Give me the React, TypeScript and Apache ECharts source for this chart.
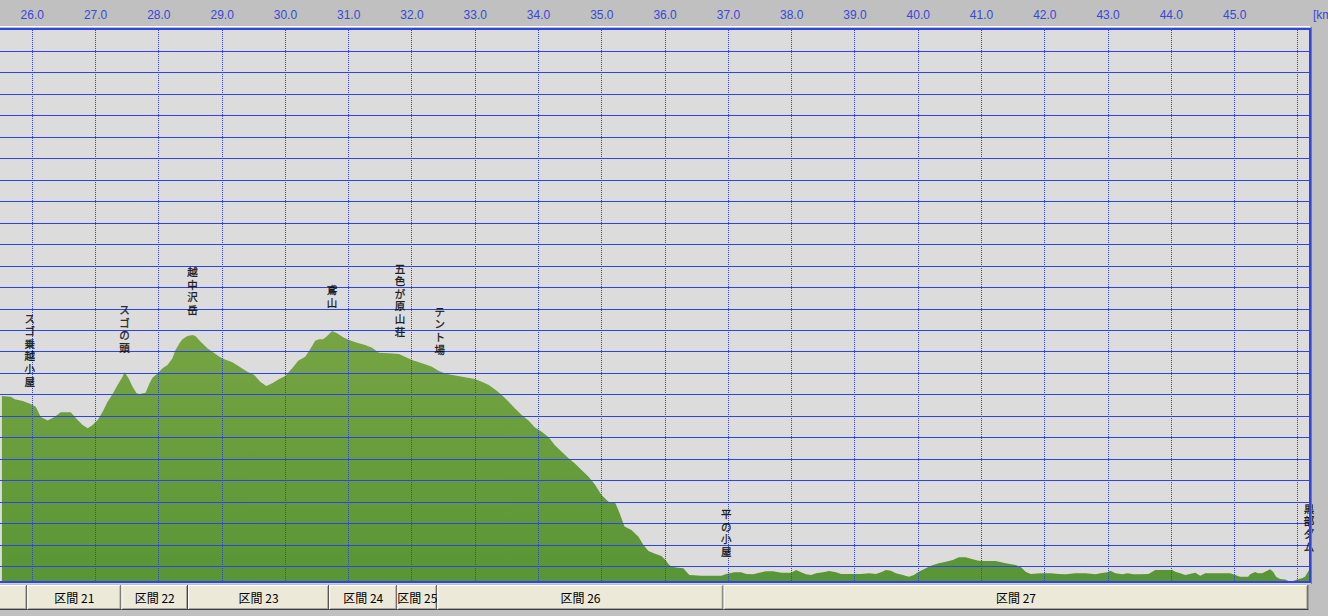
import React, { useEffect, useRef } from 'react';
import * as echarts from 'echarts';

// ---- data ----
const KM = [
  25.52, 25.661, 25.724, 25.85, 25.976, 26.055, 26.134, 26.244, 26.355, 26.449, 26.607, 26.717, 26.796, 26.875,
  26.954, 27.033, 27.112, 27.19, 27.269, 27.348, 27.427, 27.458, 27.522, 27.585, 27.648, 27.695, 27.79, 27.853,
  27.9, 27.979, 28.058, 28.137, 28.215, 28.263, 28.326, 28.373, 28.452, 28.531, 28.578, 28.657, 28.767, 28.846,
  28.957, 29.035, 29.161, 29.288, 29.398, 29.508, 29.603, 29.698, 29.792, 29.903, 29.997, 30.108, 30.202, 30.313,
  30.391, 30.47, 30.533, 30.596, 30.66, 30.738, 30.817, 30.912, 31.006, 31.132, 31.259, 31.369, 31.479, 31.637,
  31.795, 31.889, 32.0, 32.11, 32.205, 32.315, 32.425, 32.552, 32.709, 32.835, 32.993, 33.104, 33.214, 33.308,
  33.419, 33.529, 33.624, 33.734, 33.845, 33.939, 34.05, 34.16, 34.255, 34.365, 34.475, 34.57, 34.68, 34.791,
  34.885, 34.996, 35.106, 35.216, 35.28, 35.358, 35.469, 35.579, 35.658, 35.737, 35.832, 35.942, 36.005, 36.052,
  36.099, 36.21, 36.289, 36.336, 36.383, 36.572, 36.888, 36.967, 37.093, 37.203, 37.282, 37.393, 37.487, 37.597,
  37.708, 37.834, 37.992, 38.071, 38.149, 38.228, 38.307, 38.386, 38.496, 38.591, 38.701, 38.78, 39.095, 39.221,
  39.332, 39.411, 39.49, 39.568, 39.647, 39.758, 39.852, 39.931, 40.01, 40.12, 40.199, 40.325, 40.436, 40.546,
  40.641, 40.751, 40.861, 40.957, 41.066, 41.224, 41.382, 41.539, 41.618, 41.697, 41.776, 41.934, 42.092, 42.218,
  42.328, 42.486, 42.643, 42.801, 42.88, 42.99, 43.037, 43.116, 43.227, 43.306, 43.4, 43.511, 43.637, 43.7,
  43.747, 44.015, 44.062, 44.141, 44.22, 44.378, 44.456, 44.535, 44.93, 45.008, 45.087, 45.213, 45.245, 45.324,
  45.371, 45.434, 45.482, 45.56, 45.608, 45.655, 45.718, 45.797, 45.876, 45.923, 45.986, 46.065, 46.112, 46.175,
];
const ELEV = [
  2295, 2291, 2280, 2271, 2257, 2245, 2197, 2180, 2198, 2219, 2219, 2183, 2159, 2144,
  2159, 2183, 2221, 2268, 2304, 2346, 2384, 2405, 2377, 2338, 2307, 2304, 2310, 2354,
  2380, 2400, 2424, 2439, 2470, 2509, 2540, 2559, 2574, 2579, 2574, 2548, 2517, 2501,
  2478, 2466, 2452, 2428, 2408, 2392, 2361, 2341, 2354, 2374, 2388, 2424, 2459, 2478,
  2512, 2552, 2559, 2559, 2574, 2597, 2587, 2568, 2555, 2543, 2532, 2520, 2496, 2494,
  2490, 2478, 2462, 2452, 2442, 2431, 2411, 2397, 2389, 2382, 2374, 2361, 2346, 2326,
  2299, 2268, 2237, 2206, 2179, 2149, 2128, 2102, 2066, 2035, 2004, 1981, 1950, 1918,
  1884, 1833, 1802, 1795, 1749, 1686, 1670, 1639, 1600, 1572, 1561, 1549, 1530, 1512,
  1499, 1494, 1492, 1476, 1460, 1457, 1457, 1465, 1473, 1473, 1465, 1464, 1471, 1478,
  1478, 1471, 1471, 1484, 1473, 1464, 1460, 1468, 1473, 1479, 1473, 1465, 1465, 1468,
  1465, 1473, 1484, 1480, 1468, 1460, 1452, 1460, 1476, 1492, 1504, 1515, 1522, 1530,
  1543, 1543, 1534, 1527, 1526, 1526, 1515, 1507, 1499, 1476, 1465, 1468, 1468, 1465,
  1464, 1468, 1468, 1464, 1468, 1473, 1480, 1468, 1464, 1468, 1464, 1464, 1465, 1476,
  1484, 1484, 1476, 1468, 1460, 1471, 1457, 1468, 1468, 1460, 1452, 1452, 1464, 1474,
  1468, 1468, 1476, 1487, 1476, 1452, 1442, 1440, 1429, 1432, 1440, 1445, 1452, 1484,
];

const KM_TICK_LABELS = [26, 27, 28, 29, 30, 31, 32, 33, 34, 35, 36, 37, 38, 39, 40, 41, 42, 43, 44, 45];
const KM_GRID_LINES = [26, 27, 28, 29, 30, 31, 32, 33, 34, 35, 36, 37, 38, 39, 40, 41, 42, 43, 44, 45, 46];
const ELEV_GRID_LINES = [
  1500, 1600, 1700, 1800, 1900, 2000, 2100, 2200, 2300, 2400, 2500, 2600, 2700,
  2800, 2900, 3000, 3100, 3200, 3300, 3400, 3500, 3600, 3700, 3800, 3900,
];
const KM_MIN = 25;
const KM_MAX = 46.175;
const KM_STEP = 1;
const ELEV_MIN = 1400;
const ELEV_MAX = 4000;
const ELEV_STEP = 100;

const WAYPOINT_NAMES = ['スゴ乗越小屋', 'スゴの頭', '越中沢岳', '鳶山', '五色が原山荘', 'テント場', '平の小屋', '黒部ダム'];
const WAYPOINT_KM = [25.96, 27.458, 28.531, 30.738, 31.81, 32.44, 36.967, 46.175];
const WAYPOINT_ELEV = [2253, 2411, 2588, 2621, 2486, 2402, 1460, 1484];

const SECTION_NAMES = ['区間 20', '区間 21', '区間 22', '区間 23', '区間 24', '区間 25', '区間 26', '区間 27'];
const SECTION_BOUNDS = [24.0, 25.965, 27.45, 28.5, 30.725, 31.8, 32.43, 36.945, 46.165];

const UNIT_LABEL = '[km]';

// ---- layout / styles ----
const OX = 34; // the chart div starts 34px left of the page, so that km 25 lies off-screen
const BLUE = '#3044e4';
const JP_FONT = '"Noto Sans CJK JP", "Noto Sans", sans-serif';

export default function App() {
  const ref = useRef<HTMLDivElement>(null);

  useEffect(() => {
    if (!ref.current) return;
    const chart = echarts.init(ref.current, null, { renderer: 'svg' });

    const profile = KM.map((k, i) => [k, ELEV[i]]);
    const waypoints = WAYPOINT_KM.map((k, i) => ({
      value: [k, WAYPOINT_ELEV[i]],
      name: WAYPOINT_NAMES[i],
    }));
    const sections = SECTION_NAMES.map((n, i) => ({ value: [SECTION_BOUNDS[i], SECTION_BOUNDS[i + 1]], name: n }));

    const option: any = {
      animation: false,
      backgroundColor: '#c0c0c0',
      grid: [
        {
          left: 0.08,
          right: 19,
          top: 30.04,
          bottom: 28.04,
          show: true,
          backgroundColor: '#dcdcdc',
          borderWidth: 0,
        },
        {
          left: 0.08,
          right: 19,
          top: 585,
          height: 25,
          show: false,
        },
      ],
      xAxis: [
        {
          type: 'value',
          gridIndex: 0,
          position: 'top',
          min: KM_MIN,
          max: KM_MAX,
          interval: KM_STEP,
          z: 5,
          axisLine: { show: false },
          axisTick: { show: false },
          axisLabel: {
            show: true,
            margin: 9,
            color: '#3848d8',
            fontSize: 12,
            fontFamily: '"Liberation Sans", Arial, sans-serif',
            formatter: (v: number) => (KM_TICK_LABELS.includes(v) ? v.toFixed(1) : ''),
          },
          splitLine: { show: false },
        },
        {
          type: 'value',
          gridIndex: 1,
          min: KM_MIN,
          max: KM_MAX,
          show: false,
        },
      ],
      yAxis: [
        {
          type: 'value',
          gridIndex: 0,
          min: ELEV_MIN,
          max: ELEV_MAX,
          interval: ELEV_STEP,
          z: 5,
          axisLine: { show: false },
          axisTick: { show: false },
          axisLabel: { show: false },
          splitLine: { show: false },
        },
        { type: 'value', gridIndex: 1, min: 0, max: 1, show: false },
      ],
      series: [
        {
          type: 'line',
          xAxisIndex: 0,
          yAxisIndex: 0,
          data: profile,
          showSymbol: false,
          symbol: 'none',
          z: 2,
          lineStyle: { width: 0 },
          areaStyle: {
            origin: 'start',
            opacity: 1,
            color: new echarts.graphic.LinearGradient(0, 0, 0, 1, [
              { offset: 0, color: '#77a443' },
              { offset: 1, color: '#589535' },
            ]),
          },
        },
        // horizontal grid lines (elevation), pixel-snapped
        {
          type: 'custom',
          xAxisIndex: 0,
          yAxisIndex: 0,
          data: ELEV_GRID_LINES.map((v) => [v]),
          encode: { y: 0 },
          z: 5,
          silent: true,
          clip: false,
          renderItem: (params: any, api: any) => {
            const cs = params.coordSys;
            const y = Math.floor(api.coord([KM_MIN, api.value(0)])[1]) + 0.5;
            return {
              type: 'line',
              shape: { x1: cs.x, y1: y, x2: cs.x + cs.width, y2: y },
              style: { stroke: BLUE, lineWidth: 1 },
            };
          },
        },
        // vertical dotted grid lines (km), pixel-snapped
        {
          type: 'custom',
          xAxisIndex: 0,
          yAxisIndex: 0,
          data: KM_GRID_LINES.map((v) => [v]),
          encode: { x: 0 },
          z: 5,
          silent: true,
          clip: false,
          renderItem: (params: any, api: any) => {
            const cs = params.coordSys;
            const x = Math.floor(api.coord([api.value(0), ELEV_MIN])[0]) + 0.5;
            return {
              type: 'line',
              shape: { x1: x, y1: cs.y, x2: x, y2: cs.y + cs.height },
              style: { stroke: BLUE, lineWidth: 1, lineDash: [1, 1] },
            };
          },
        },
        {
          type: 'scatter',
          xAxisIndex: 0,
          yAxisIndex: 0,
          data: waypoints,
          symbolSize: 1,
          itemStyle: { color: 'rgba(0,0,0,0)' },
          z: 10,
          clip: false,
          label: {
            show: true,
            position: 'top',
            distance: 17,
            color: '#000',
            fontSize: 10.5,
            lineHeight: 12.6,
            fontFamily: JP_FONT,
            textBorderColor: '#000',
            textBorderWidth: 0.35,
            align: 'center',
            formatter: (p: any) => String(p.name).split('').join('\n'),
          },
        },
        {
          type: 'custom',
          xAxisIndex: 1,
          yAxisIndex: 1,
          data: sections,
          z: 60,
          clip: false,
          encode: { x: [0, 1] },
          renderItem: (params: any, api: any) => {
            const x0 = api.coord([api.value(0), 0])[0];
            const x1 = api.coord([api.value(1), 0])[0];
            const yb = api.coord([KM_MIN, 0])[1];
            const yt = api.coord([KM_MIN, 1])[1];
            const name = SECTION_NAMES[params.dataIndex];
            const cx = (x0 + x1) / 2;
            const children: any[] = [
              { type: 'rect', shape: { x: x0, y: yt, width: x1 - x0, height: yb - yt }, style: { fill: '#ece9d8' } },
              { type: 'line', shape: { x1: x0, y1: yt + 0.5, x2: x1 - 1, y2: yt + 0.5 }, style: { stroke: '#ffffff', lineWidth: 1 } },
              { type: 'line', shape: { x1: x0 + 0.5, y1: yt, x2: x0 + 0.5, y2: yb - 1 }, style: { stroke: '#ffffff', lineWidth: 1 } },
              { type: 'line', shape: { x1: x0 + 1, y1: yb - 1.5, x2: x1 - 1, y2: yb - 1.5 }, style: { stroke: '#aca899', lineWidth: 1 } },
              { type: 'line', shape: { x1: x1 - 1.5, y1: yt + 1, x2: x1 - 1.5, y2: yb - 1 }, style: { stroke: '#aca899', lineWidth: 1 } },
              { type: 'line', shape: { x1: x0, y1: yb - 0.5, x2: x1, y2: yb - 0.5 }, style: { stroke: '#3c3c44', lineWidth: 1 } },
              { type: 'line', shape: { x1: x1 - 0.5, y1: yt, x2: x1 - 0.5, y2: yb }, style: { stroke: '#3c3c44', lineWidth: 1 } },
            ];
            // the label of a section whose centre is off the page is not shown
            if (cx > OX) {
              children.push({
                type: 'text',
                style: {
                  text: name,
                  x: cx,
                  y: (yt + yb) / 2,
                  align: 'center',
                  verticalAlign: 'middle',
                  textAlign: 'center',
                  textVerticalAlign: 'middle',
                  fill: '#000',
                  font: '12px ' + JP_FONT,
                },
              });
            }
            return { type: 'group', children };
          },
        },
      ],
      graphic: [
        // white line below header
        { type: 'line', z: 40, shape: { x1: OX, y1: 26.5, x2: OX + 1310, y2: 26.5 }, style: { stroke: '#ffffff', lineWidth: 1 } },
        // top border of plot
        { type: 'line', z: 40, shape: { x1: 0, y1: 29, x2: OX + 1311, y2: 29 }, style: { stroke: BLUE, lineWidth: 2 } },
        // bottom cover
        { type: 'rect', z: 50, shape: { x: 0, y: 583, width: OX + 1328, height: 33 }, style: { fill: '#c0c0c0' } },
        { type: 'line', z: 51, shape: { x1: 0, y1: 583.5, x2: OX + 1311, y2: 583.5 }, style: { stroke: '#d0d0d0', lineWidth: 1 } },
        // bottom border of plot
        { type: 'line', z: 52, shape: { x1: 0, y1: 582, x2: OX + 1311, y2: 582 }, style: { stroke: BLUE, lineWidth: 2 } },
        // right border of plot
        { type: 'line', z: 52, shape: { x1: OX + 1310, y1: 28, x2: OX + 1310, y2: 583 }, style: { stroke: BLUE, lineWidth: 2 } },
        { type: 'line', z: 52, shape: { x1: OX + 1311.5, y1: 27, x2: OX + 1311.5, y2: 584 }, style: { stroke: '#7a7a7a', lineWidth: 1 } },
        // unit label
        {
          type: 'text',
          z: 40,
          x: OX + 1313,
          y: 15,
          style: {
            text: UNIT_LABEL,
            fill: '#3848d8',
            font: '12px "Liberation Sans", Arial, sans-serif',
            textAlign: 'left',
            textVerticalAlign: 'middle',
            align: 'left',
            verticalAlign: 'middle',
          },
        },
      ],
    };

    chart.setOption(option);
    return () => chart.dispose();
  }, []);

  return (
    <div
      ref={ref}
      style={{ position: 'absolute', left: -OX, top: 0, width: 1328 + OX, height: 616 }}
    />
  );
}
